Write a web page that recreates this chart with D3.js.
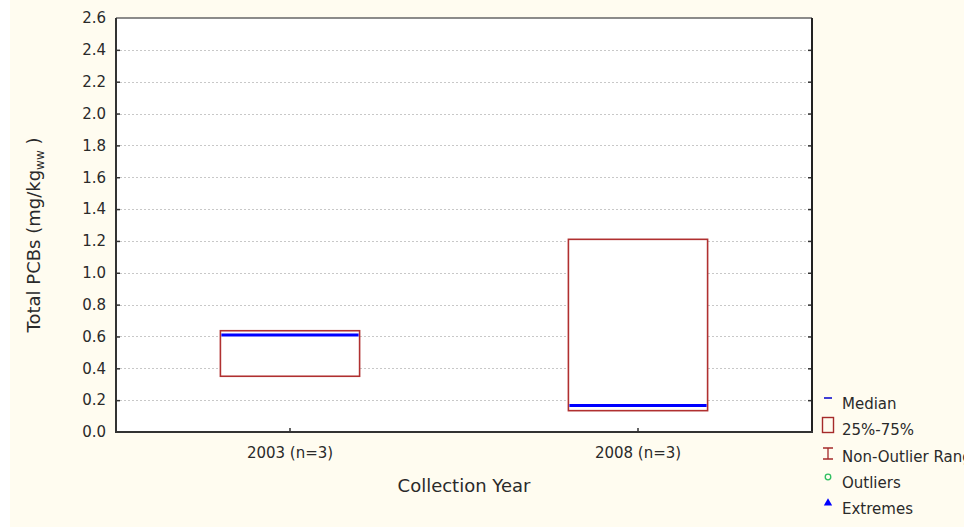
<!DOCTYPE html>
<html><head><meta charset="utf-8">
<script src="https://cdn.jsdelivr.net/npm/d3@7"></script>
<style>
html,body{margin:0;padding:0;background:#fff;}
svg{display:block;}
text{font-family:"DejaVu Sans",Verdana,sans-serif;fill:#2a2a2a;}
</style></head>
<body>
<svg id="chart" width="964" height="531"></svg>
<script>
const categories = ["2003 (n=3)", "2008 (n=3)"];
const q1Values = [0.35, 0.134];
const medianValues = [0.609, 0.167];
const q3Values = [0.636, 1.21];
const minValues = [0.35, 0.134];
const maxValues = [0.636, 1.21];
const yTicks = [0.0,0.2,0.4,0.6,0.8,1.0,1.2,1.4,1.6,1.8,2.0,2.2,2.4,2.6];
const legendLabels = ["Median", "25%-75%", "Non-Outlier Range", "Outliers", "Extremes"];

const svg = d3.select("#chart");
const W = 964, H = 531;
const m = {left:116, top:18, right:812, bottom:432};

svg.append("rect").attr("x",10).attr("y",0).attr("width",W-10).attr("height",527).attr("fill","#fffcf0");
svg.append("rect").attr("x",m.left).attr("y",m.top).attr("width",m.right-m.left).attr("height",m.bottom-m.top).attr("fill","#fff");

const x = d3.scaleBand().domain(categories).range([m.left,m.right]);
const y = d3.scaleLinear().domain([0,2.6]).range([m.bottom,m.top]);

// gridlines
svg.append("g").selectAll("line").data(yTicks.filter(t=>t>0 && t<2.6)).join("line")
  .attr("x1",m.left).attr("x2",m.right).attr("y1",d=>Math.round(y(d))+0.5).attr("y2",d=>Math.round(y(d))+0.5)
  .attr("stroke","#c8c8c8").attr("stroke-width",1).attr("stroke-dasharray","2,2");

// Y axis (ticks inside)
const yAxis = d3.axisLeft(y).tickValues(yTicks).tickFormat(d3.format(".1f")).tickSizeInner(-4).tickSizeOuter(0).tickPadding(10);
const gy = svg.append("g").attr("transform",`translate(${m.left},0)`).call(yAxis);
gy.attr("font-family",null).attr("font-size",null);
gy.select(".domain").remove();
gy.selectAll(".tick line").attr("stroke","#333").attr("stroke-width",1.5);
gy.selectAll(".tick text").attr("font-size",15).attr("fill","#2a2a2a");
gy.selectAll(".tick").filter(d=>d===0||d===2.6).select("line").remove();

// right ticks
const yAxisR = d3.axisRight(y).tickValues(yTicks.filter(t=>t>0&&t<2.6)).tickFormat("").tickSizeInner(-4).tickSizeOuter(0);
const gyr = svg.append("g").attr("transform",`translate(${m.right},0)`).call(yAxisR);
gyr.select(".domain").remove();
gyr.selectAll(".tick line").attr("stroke","#333").attr("stroke-width",1.5);

// X axis
const xAxis = d3.axisBottom(x).tickSizeInner(-4).tickSizeOuter(0).tickPadding(15);
const gx = svg.append("g").attr("transform",`translate(0,${m.bottom})`).call(xAxis);
gx.attr("font-family",null).attr("font-size",null);
gx.select(".domain").remove();
gx.selectAll(".tick line").attr("stroke","#333").attr("stroke-width",1.5);
gx.selectAll(".tick text").attr("font-size",15).attr("fill","#2a2a2a");

// frame
svg.append("line").attr("x1",m.left).attr("x2",m.right).attr("y1",m.top).attr("y2",m.top).attr("stroke","#666").attr("stroke-width",1.5);
svg.append("line").attr("x1",m.right).attr("x2",m.right).attr("y1",m.top).attr("y2",m.bottom).attr("stroke","#222").attr("stroke-width",2);
svg.append("line").attr("x1",m.left).attr("x2",m.left).attr("y1",m.top).attr("y2",m.bottom+1).attr("stroke","#333").attr("stroke-width",2);
svg.append("line").attr("x1",m.left).attr("x2",m.right+1).attr("y1",m.bottom).attr("y2",m.bottom).attr("stroke","#333").attr("stroke-width",2);

// boxes
const boxW = x.bandwidth()*0.4;
const data = categories.map((c,i)=>({c, q1:q1Values[i], med:medianValues[i], q3:q3Values[i], lo:minValues[i], hi:maxValues[i]}));
const g = svg.append("g");
data.forEach(d=>{
  const cx = x(d.c)+x.bandwidth()/2;
  g.append("line").attr("x1",cx).attr("x2",cx).attr("y1",y(d.hi)).attr("y2",y(d.q3)).attr("stroke","#a52a2a");
  g.append("line").attr("x1",cx).attr("x2",cx).attr("y1",y(d.lo)).attr("y2",y(d.q1)).attr("stroke","#a52a2a");
  g.append("rect").attr("x",cx-boxW/2).attr("y",y(d.q3)).attr("width",boxW).attr("height",y(d.q1)-y(d.q3))
    .attr("fill","#fff").attr("stroke","#b03030").attr("stroke-width",1.6);
  g.append("line").attr("x1",cx-boxW/2+1).attr("x2",cx+boxW/2-1).attr("y1",y(d.med)).attr("y2",y(d.med))
    .attr("stroke","#0000ff").attr("stroke-width",3);
});

// axis titles
svg.append("text").attr("x",(m.left+m.right)/2).attr("y",492).attr("text-anchor","middle").attr("font-size",18).text("Collection Year");
const yt = svg.append("text").attr("transform","translate(40,235) rotate(-90)").attr("text-anchor","middle").attr("font-size",18);
yt.append("tspan").text("Total PCBs (mg/kg");
yt.append("tspan").attr("font-size",12).attr("dy",4).text("ww");
yt.append("tspan").attr("dy",-4).text(" )");

// legend
const lg = svg.append("g");
const lx = 828, ly0 = 409, dy = 26.3;
legendLabels.forEach((t,i)=>{
  lg.append("text").attr("x",842).attr("y",ly0+i*dy).attr("font-size",15).text(t);
});
lg.append("line").attr("x1",lx-4).attr("x2",lx+4).attr("y1",398).attr("y2",398).attr("stroke","#0000cc").attr("stroke-width",1.5);
lg.append("rect").attr("x",lx-5.5).attr("y",417.5).attr("width",11).attr("height",15).attr("fill","none").attr("stroke","#a52a2a").attr("stroke-width",1.4);
lg.append("path").attr("d",`M${lx-5},448 H${lx+5} M${lx},448 V459 M${lx-5},459 H${lx+5}`).attr("fill","none").attr("stroke","#a52a2a").attr("stroke-width",1.3);
lg.append("circle").attr("cx",lx).attr("cy",477).attr("r",2.8).attr("fill","none").attr("stroke","#2fbf60").attr("stroke-width",1.3);
lg.append("path").attr("d",d3.symbol(d3.symbolTriangle,30)()).attr("transform",`translate(${lx},503)`).attr("fill","#0000ff");
</script>
</body></html>
